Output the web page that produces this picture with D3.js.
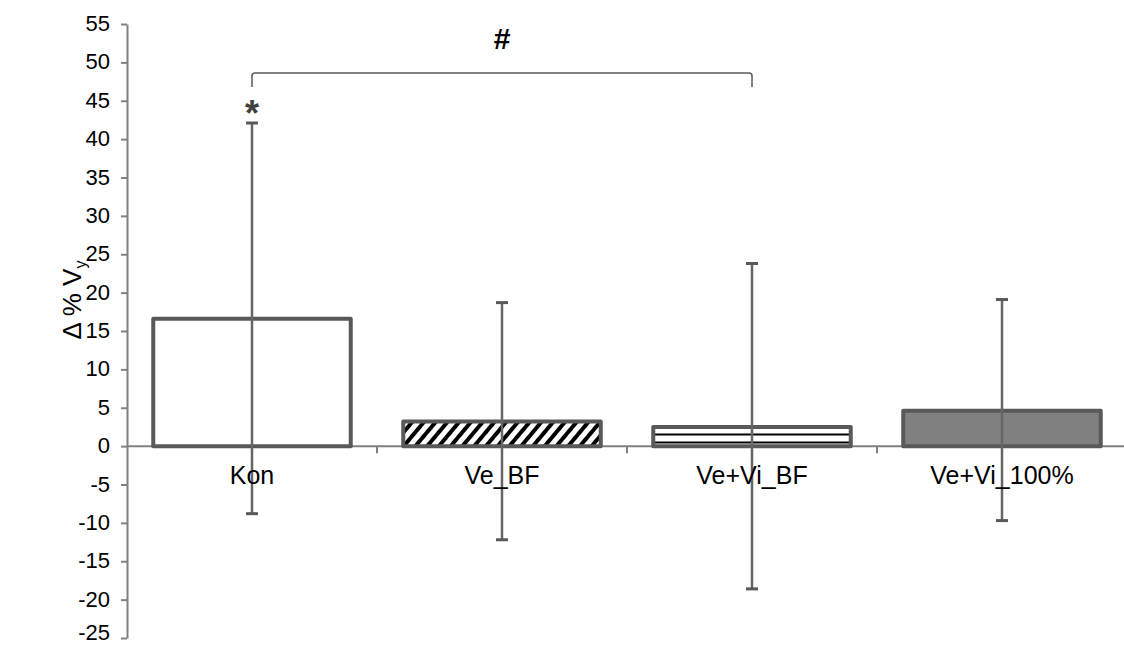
<!DOCTYPE html>
<html>
<head>
<meta charset="utf-8">
<script src="https://cdn.jsdelivr.net/npm/d3@7"></script>
<style>
  body { margin: 0; background: #fff; }
  text { font-family: "Liberation Sans", Arial, sans-serif; }
</style>
</head>
<body>
<div id="chart"></div>
<script>
const categories = ["Kon", "Ve_BF", "Ve+Vi_BF", "Ve+Vi_100%"];
const means = [16.6, 3.2, 2.5, 4.6];
const errUpper = [42.1, 18.7, 23.8, 19.1];
const errLower = [-8.8, -12.2, -18.6, -9.7];
const yTicks = [-25, -20, -15, -10, -5, 0, 5, 10, 15, 20, 25, 30, 35, 40, 45, 50, 55];
const fills = ["#ffffff", "url(#diag)", "url(#horiz)", "#808080"];

const width = 1124, height = 648;
const svg = d3.select("#chart").append("svg").attr("width", width).attr("height", height);

// patterns
const defs = svg.append("defs");
const diag = defs.append("pattern")
  .attr("id", "diag")
  .attr("patternUnits", "userSpaceOnUse")
  .attr("width", 9).attr("height", 9)
  .attr("patternTransform", "rotate(40)");
diag.append("rect").attr("width", 9).attr("height", 9).attr("fill", "#fff");
diag.append("rect").attr("width", 4).attr("height", 9).attr("fill", "#000");

const horiz = defs.append("pattern")
  .attr("id", "horiz")
  .attr("patternUnits", "userSpaceOnUse")
  .attr("width", 10).attr("height", 8)
  .attr("y", 446);
horiz.append("rect").attr("width", 10).attr("height", 8).attr("fill", "#fff");
horiz.append("rect").attr("y", 3.5).attr("width", 10).attr("height", 2).attr("fill", "#000");

const y = d3.scaleLinear().domain([-25, 55]).range([638, 24]);
const x = d3.scaleBand().domain(categories).range([127, 1127]).paddingInner(0.21).paddingOuter(0.105);

// y axis
const yAxis = svg.append("g")
  .attr("transform", "translate(127,0)")
  .call(d3.axisLeft(y).tickValues(yTicks).tickFormat(d => String(d)).tickSize(6).tickSizeOuter(0).tickPadding(11));
yAxis.attr("font-size", null).attr("font-family", null);
yAxis.select(".domain").attr("stroke", "#808080").attr("stroke-width", 2);
yAxis.selectAll(".tick line").attr("stroke", "#808080").attr("stroke-width", 2);
yAxis.selectAll(".tick text")
  .attr("fill", "#000")
  .attr("dy", d => d === -25 ? "0.05em" : "0.3em")  // keep the lowest label inside the frame
  .style("font-size", "22px")
  .attr("text-anchor", "end");

// zero line with category separators
const gap = x.step() - x.bandwidth();
svg.append("line")
  .attr("x1", 127).attr("x2", 1124)
  .attr("y1", y(0)).attr("y2", y(0))
  .attr("stroke", "#808080").attr("stroke-width", 2);
svg.append("g").selectAll("line")
  .data(categories.slice(1))
  .enter().append("line")
  .attr("x1", d => x(d) - gap / 2)
  .attr("x2", d => x(d) - gap / 2)
  .attr("y1", y(0)).attr("y2", y(0) + 7)
  .attr("stroke", "#808080").attr("stroke-width", 2);

// bars
svg.append("g").selectAll("rect")
  .data(categories)
  .enter().append("rect")
  .attr("x", d => x(d))
  .attr("y", (d, i) => y(means[i]))
  .attr("width", x.bandwidth())
  .attr("height", (d, i) => y(0) - y(means[i]))
  .attr("fill", (d, i) => fills[i])
  .attr("stroke", "#595959")
  .attr("stroke-width", 4)
  .attr("stroke-linejoin", "round");

// error bars
const eb = svg.append("g").selectAll("g")
  .data(categories)
  .enter().append("g");
eb.append("line")
  .attr("x1", d => x(d) + x.bandwidth() / 2)
  .attr("x2", d => x(d) + x.bandwidth() / 2)
  .attr("y1", (d, i) => y(errUpper[i]))
  .attr("y2", (d, i) => y(errLower[i]))
  .attr("stroke", "#666666").attr("stroke-width", 2.5);
eb.append("line")
  .attr("x1", d => x(d) + x.bandwidth() / 2 - 6)
  .attr("x2", d => x(d) + x.bandwidth() / 2 + 6)
  .attr("y1", (d, i) => y(errUpper[i]))
  .attr("y2", (d, i) => y(errUpper[i]))
  .attr("stroke", "#595959").attr("stroke-width", 3);
eb.append("line")
  .attr("x1", d => x(d) + x.bandwidth() / 2 - 6)
  .attr("x2", d => x(d) + x.bandwidth() / 2 + 6)
  .attr("y1", (d, i) => y(errLower[i]))
  .attr("y2", (d, i) => y(errLower[i]))
  .attr("stroke", "#595959").attr("stroke-width", 3);

// category labels
svg.append("g").selectAll("text")
  .data(categories)
  .enter().append("text")
  .attr("x", d => x(d) + x.bandwidth() / 2)
  .attr("y", y(0) + 38)
  .attr("text-anchor", "middle")
  .style("font-size", "25px")
  .text(d => d);

// y label
const yl = svg.append("text")
  .attr("transform", "translate(81,300) rotate(-90)")
  .attr("text-anchor", "middle")
  .style("font-size", "26px");
yl.append("tspan").text("\u0394 % V");
yl.append("tspan").attr("dy", 5).style("font-size", "16px").text("y");

// significance bracket
const cx0 = x("Kon") + x.bandwidth() / 2;
const cx2 = x("Ve+Vi_BF") + x.bandwidth() / 2;
svg.append("path")
  .attr("d", `M${cx0},87 L${cx0},76 Q${cx0},73 ${cx0 + 3},73 L${cx2 - 3},73 Q${cx2},73 ${cx2},76 L${cx2},87`)
  .attr("fill", "none").attr("stroke", "#595959").attr("stroke-width", 1.5);
svg.append("text")
  .attr("x", (cx0 + cx2) / 2).attr("y", 49)
  .attr("text-anchor", "middle")
  .style("font-size", "30px").style("font-weight", "bold")
  .text("#");
svg.append("text")
  .attr("x", cx0).attr("y", 126)
  .attr("text-anchor", "middle")
  .attr("fill", "#404040")
  .style("font-size", "36px").style("font-weight", "bold")
  .text("*");
</script>
</body>
</html>
